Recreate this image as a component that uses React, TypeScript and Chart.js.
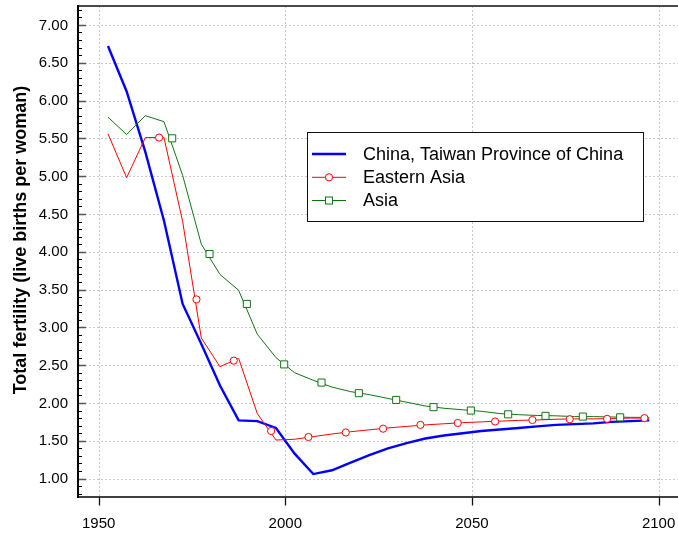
import { useEffect, useRef } from "react";
import { Chart, registerables } from "chart.js";

Chart.register(...registerables);

// ---- data ----
const years = [
  1952.5, 1957.5, 1962.5, 1967.5, 1972.5, 1977.5, 1982.5, 1987.5, 1992.5, 1997.5,
  2002.5, 2007.5, 2012.5, 2017.5, 2022.5, 2027.5, 2032.5, 2037.5, 2042.5, 2047.5,
  2052.5, 2057.5, 2062.5, 2067.5, 2072.5, 2077.5, 2082.5, 2087.5, 2092.5, 2097.5,
];

const taiwan = [
  6.72, 6.12, 5.32, 4.41, 3.31, 2.78, 2.23, 1.77, 1.76, 1.67,
  1.33, 1.06, 1.11, 1.21, 1.31, 1.4, 1.47, 1.53, 1.57, 1.6,
  1.63, 1.65, 1.67, 1.69, 1.71, 1.72, 1.73, 1.75, 1.76, 1.77,
];

const easternAsia = [
  5.56, 4.98, 5.51, 5.51, 4.4, 2.86, 2.48, 2.59, 1.86, 1.51,
  1.52, 1.555, 1.59, 1.62, 1.645, 1.67, 1.69, 1.71, 1.725, 1.74,
  1.75, 1.76, 1.77, 1.775, 1.785, 1.79, 1.79, 1.795, 1.8, 1.8,
];

const asia = [
  5.78, 5.55, 5.8, 5.72, 5.01, 4.1, 3.7, 3.49, 2.91, 2.6,
  2.4, 2.3, 2.21, 2.15, 2.11, 2.06, 2.01, 1.96, 1.93, 1.91,
  1.89, 1.86, 1.845, 1.835, 1.83, 1.82, 1.82, 1.815, 1.81, 1.81,
];

const easternAsiaMarkerYears = [
  1966.2, 1976.2, 1986.2, 1996.2, 2006.2, 2016.2, 2026.2, 2036.2, 2046.2, 2056.2,
  2066.2, 2076.2, 2086.2, 2096.2,
];
const easternAsiaMarkers = [
  5.51, 3.37, 2.56, 1.63, 1.55, 1.61, 1.66, 1.71, 1.735, 1.755,
  1.775, 1.785, 1.79, 1.8,
];

const asiaMarkerYears = [
  1969.7, 1979.7, 1989.7, 1999.7, 2009.7, 2019.7, 2029.7, 2039.7, 2049.7, 2059.7,
  2069.7, 2079.7, 2089.7,
];
const asiaMarkers = [
  5.5, 3.97, 3.31, 2.51, 2.27, 2.13, 2.04, 1.945, 1.9, 1.85,
  1.83, 1.82, 1.81,
];

const yTicks = [1.0, 1.5, 2.0, 2.5, 3.0, 3.5, 4.0, 4.5, 5.0, 5.5, 6.0, 6.5, 7.0];
const yMinorTicks = [
  0.8, 0.9, 1.1, 1.2, 1.3, 1.4, 1.6, 1.7, 1.8, 1.9, 2.1, 2.2, 2.3, 2.4, 2.6, 2.7, 2.8, 2.9,
  3.1, 3.2, 3.3, 3.4, 3.6, 3.7, 3.8, 3.9, 4.1, 4.2, 4.3, 4.4, 4.6, 4.7, 4.8, 4.9,
  5.1, 5.2, 5.3, 5.4, 5.6, 5.7, 5.8, 5.9, 6.1, 6.2, 6.3, 6.4, 6.6, 6.7, 6.8, 6.9, 7.1, 7.2,
];
const xTicks = [1950, 2000, 2050, 2100];

const seriesNames = ["China, Taiwan Province of China", "Eastern Asia", "Asia"];
const seriesColors = ["#0000ff", "#ff0000", "#137313"];
const yTitle = "Total fertility (live births per woman)";

const FONT = "'Liberation Sans', Arial, sans-serif";

const decorPlugin = {
  id: "decor",
  beforeDatasetsDraw(chart: any) {
    const { ctx, chartArea: a, scales } = chart;
    const x = scales.x;
    const y = scales.y;
    ctx.save();
    ctx.strokeStyle = "#c8c8c8";
    ctx.lineWidth = 1;
    ctx.setLineDash([2, 2]);
    for (const v of yTicks) {
      const py = Math.round(y.getPixelForValue(v)) + 0.5;
      ctx.beginPath();
      ctx.moveTo(a.left, py);
      ctx.lineTo(a.right, py);
      ctx.stroke();
    }
    for (const v of xTicks) {
      const px = Math.round(x.getPixelForValue(v)) + 0.5;
      ctx.beginPath();
      ctx.moveTo(px, a.top);
      ctx.lineTo(px, a.bottom);
      ctx.stroke();
    }
    ctx.restore();
  },
  afterDatasetsDraw(chart: any) {
    const { ctx, chartArea: a, scales } = chart;
    const x = scales.x;
    const y = scales.y;
    ctx.save();
    ctx.setLineDash([]);

    // top frame
    ctx.strokeStyle = "#4a4a4a";
    ctx.lineWidth = 2;
    ctx.beginPath();
    ctx.moveTo(a.left, a.top);
    ctx.lineTo(a.right + 10, a.top);
    ctx.stroke();

    // left axis
    ctx.strokeStyle = "#000";
    ctx.lineWidth = 2;
    ctx.beginPath();
    ctx.moveTo(a.left + 1, a.top - 1);
    ctx.lineTo(a.left + 1, a.bottom + 0.5);
    ctx.stroke();

    // bottom axis
    ctx.lineWidth = 1.6;
    ctx.beginPath();
    ctx.moveTo(a.left, a.bottom - 0.5);
    ctx.lineTo(a.right + 10, a.bottom - 0.5);
    ctx.stroke();

    // y minor ticks
    ctx.lineWidth = 1;
    ctx.strokeStyle = "#000";
    for (const v of yMinorTicks) {
      const py = Math.round(y.getPixelForValue(v)) + 0.5;
      ctx.beginPath();
      ctx.moveTo(a.left + 2, py);
      ctx.lineTo(a.left + 5, py);
      ctx.stroke();
    }
    // y major ticks
    ctx.strokeStyle = "#555";
    ctx.lineWidth = 1.5;
    for (const v of yTicks) {
      const py = Math.round(y.getPixelForValue(v)) + 0.5;
      ctx.beginPath();
      ctx.moveTo(a.left + 2, py);
      ctx.lineTo(a.left + 9, py);
      ctx.stroke();
    }
    // x ticks
    ctx.strokeStyle = "#111";
    ctx.lineWidth = 1.3;
    for (const v of xTicks) {
      const px = Math.round(x.getPixelForValue(v)) + 0.5;
      ctx.beginPath();
      ctx.moveTo(px, a.bottom);
      ctx.lineTo(px, a.bottom + 8);
      ctx.stroke();
    }

    // tick labels
    ctx.fillStyle = "#000";
    ctx.font = `15px ${FONT}`;
    ctx.textAlign = "right";
    ctx.textBaseline = "middle";
    for (const v of yTicks) {
      ctx.fillText(v.toFixed(2), a.left - 9, y.getPixelForValue(v) + 0.5);
    }
    ctx.textAlign = "center";
    for (const v of xTicks) {
      ctx.fillText(String(v), x.getPixelForValue(v), a.bottom + 26);
    }

    // y title
    ctx.save();
    ctx.font = `bold 18px ${FONT}`;
    ctx.translate(21, 240);
    ctx.rotate(-Math.PI / 2);
    ctx.textAlign = "center";
    ctx.textBaseline = "middle";
    ctx.fillText(yTitle, 0, 0);
    ctx.restore();

    // legend
    const lx = 307.5, ly = 132.5, lw = 336, lh = 89;
    ctx.fillStyle = "#fff";
    ctx.fillRect(lx, ly, lw, lh);
    ctx.strokeStyle = "#111";
    ctx.lineWidth = 1;
    ctx.strokeRect(lx, ly, lw, lh);
    const rows = [154, 177.3, 200.5];
    ctx.font = `18px ${FONT}`;
    ctx.textAlign = "left";
    ctx.textBaseline = "middle";
    for (let i = 0; i < seriesNames.length; i++) {
      const ry = rows[i];
      ctx.strokeStyle = seriesColors[i];
      ctx.lineWidth = i === 0 ? 2.4 : 1;
      ctx.beginPath();
      ctx.moveTo(312, ry);
      ctx.lineTo(346, ry);
      ctx.stroke();
      if (i === 1) {
        ctx.fillStyle = "#fff";
        ctx.beginPath();
        ctx.arc(329, ry, 3.6, 0, Math.PI * 2);
        ctx.fill();
        ctx.stroke();
      } else if (i === 2) {
        ctx.fillStyle = "#fff";
        ctx.fillRect(325.5, ry - 3.5, 7, 7);
        ctx.strokeRect(325.5, ry - 3.5, 7, 7);
      }
      ctx.fillStyle = "#000";
      ctx.fillText(seriesNames[i], 363, ry + 1);
    }
    ctx.restore();
  },
};

export default function App() {
  const ref = useRef<HTMLCanvasElement>(null);
  useEffect(() => {
    document.body.style.margin = "0";
    document.body.style.overflow = "hidden";
    const toXY = (xs: number[], ys: number[]) => xs.map((xv, i) => ({ x: xv, y: ys[i] }));
    const chart = new Chart(ref.current as HTMLCanvasElement, {
      type: "line",
      data: {
        datasets: [
          {
            label: seriesNames[0],
            data: toXY(years, taiwan),
            borderColor: seriesColors[0],
            borderWidth: 2.4,
            pointRadius: 0,
            tension: 0,
            order: 5,
          },
          {
            label: seriesNames[1],
            data: toXY(years, easternAsia),
            borderColor: seriesColors[1],
            borderWidth: 1,
            pointRadius: 0,
            tension: 0,
            order: 4,
          },
          {
            label: seriesNames[2],
            data: toXY(years, asia),
            borderColor: seriesColors[2],
            borderWidth: 1,
            pointRadius: 0,
            tension: 0,
            order: 3,
          },
          {
            label: seriesNames[1] + " markers",
            data: toXY(easternAsiaMarkerYears, easternAsiaMarkers),
            showLine: false,
            pointStyle: "circle",
            pointRadius: 3.6,
            pointBorderWidth: 1,
            pointBorderColor: seriesColors[1],
            pointBackgroundColor: "#fff",
            borderColor: seriesColors[1],
            order: 2,
          },
          {
            label: seriesNames[2] + " markers",
            data: toXY(asiaMarkerYears, asiaMarkers),
            showLine: false,
            pointStyle: "rect",
            pointRadius: 5,
            pointBorderWidth: 1,
            pointBorderColor: seriesColors[2],
            pointBackgroundColor: "#fff",
            borderColor: seriesColors[2],
            order: 1,
          },
        ] as any,
      },
      options: {
        responsive: false,
        devicePixelRatio: 1,
        animation: false,
        events: [],
        layout: { padding: { top: 5.5, right: 5, left: 0, bottom: 0 } },
        plugins: { legend: { display: false }, tooltip: { enabled: false }, title: { display: false } },
        scales: {
          x: {
            type: "linear",
            min: 1944.2,
            max: 2106.8,
            ticks: { display: false },
            grid: { display: false, drawTicks: false },
            border: { display: false },
            afterFit: (s: any) => {
              s.height = 37.5;
            },
          },
          y: {
            type: "linear",
            min: 0.75,
            max: 7.25,
            ticks: { display: false },
            grid: { display: false, drawTicks: false },
            border: { display: false },
            afterFit: (s: any) => {
              s.width = 77;
            },
          },
        },
      },
      plugins: [decorPlugin],
    });
    return () => chart.destroy();
  }, []);
  return (
    <div style={{ width: 678, height: 535, overflow: "hidden", position: "relative", background: "#fff" }}>
      <canvas ref={ref} width={690} height={535} style={{ display: "block", width: 690, height: 535 }} />
    </div>
  );
}
